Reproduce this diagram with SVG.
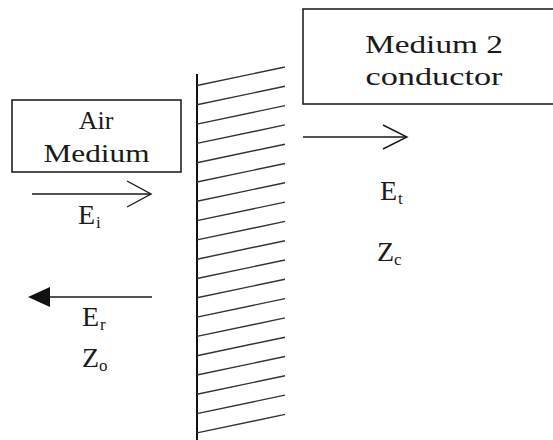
<svg xmlns="http://www.w3.org/2000/svg" width="553" height="440" viewBox="0 0 553 440">
<style>
.box{fill:#fff;stroke:#222;stroke-width:1.6}
.t{font-family:serif;fill:#1a1a1a}
.lbl{font-size:26px}
.sym{font-size:28px}
.sub{font-size:17px}
.ln{stroke:#1a1a1a;stroke-width:1.4;fill:none}
.hatch{stroke:#333;stroke-width:1.4}
</style>
<rect width="553" height="440" fill="#fff"/>
<g id="air-medium">
<rect class="box" x="12" y="100" width="169" height="72"/>
<text class="t lbl" x="96" y="129" text-anchor="middle">Air</text>
<text class="t lbl" x="96.5" y="162" text-anchor="middle" textLength="106" lengthAdjust="spacingAndGlyphs">Medium</text>
</g>
<g id="medium2-conductor">
<rect class="box" x="303" y="9" width="260" height="95"/>
<text class="t lbl" x="434" y="53" text-anchor="middle" textLength="138" lengthAdjust="spacingAndGlyphs">Medium 2</text>
<text class="t lbl" x="434" y="85" text-anchor="middle" textLength="137" lengthAdjust="spacingAndGlyphs">conductor</text>
</g>
<g id="wall">
<line x1="197" y1="74" x2="197" y2="440" stroke="#111" stroke-width="2"/>
<g class="hatch">
<line x1="197" y1="85.5" x2="285" y2="67"/>
<line x1="197" y1="104.8" x2="285" y2="86.3"/>
<line x1="197" y1="124.1" x2="285" y2="105.6"/>
<line x1="197" y1="143.4" x2="285" y2="124.9"/>
<line x1="197" y1="162.7" x2="285" y2="144.2"/>
<line x1="197" y1="182" x2="285" y2="163.5"/>
<line x1="197" y1="201.3" x2="285" y2="182.8"/>
<line x1="197" y1="220.6" x2="285" y2="202.1"/>
<line x1="197" y1="239.9" x2="285" y2="221.4"/>
<line x1="197" y1="259.2" x2="285" y2="240.7"/>
<line x1="197" y1="278.5" x2="285" y2="260"/>
<line x1="197" y1="297.8" x2="285" y2="279.3"/>
<line x1="197" y1="317.1" x2="285" y2="298.6"/>
<line x1="197" y1="336.4" x2="285" y2="317.9"/>
<line x1="197" y1="355.7" x2="285" y2="337.2"/>
<line x1="197" y1="375" x2="285" y2="356.5"/>
<line x1="197" y1="394.3" x2="285" y2="375.8"/>
<line x1="197" y1="413.6" x2="285" y2="395.1"/>
<line x1="197" y1="432.9" x2="285" y2="414.4"/>
</g>
</g>
<g id="connectors">
<g id="incident">
<line class="ln" x1="32" y1="194" x2="151" y2="194"/>
<polyline class="ln" points="127,181 151,194 127,207"/>
</g>
<g id="transmitted">
<line class="ln" x1="303" y1="137" x2="407" y2="137"/>
<polyline class="ln" points="383,125 407,137 383,149"/>
</g>
<g id="reflected">
<line class="ln" x1="45" y1="297" x2="152" y2="297"/>
<polygon points="28,297 50,287 50,307" fill="#111"/>
</g>
</g>
<g id="labels">
<text class="t sym" x="78" y="224">E</text><text class="t sub" x="96" y="228">i</text>
<text class="t sym" x="380" y="200">E</text><text class="t sub" x="398" y="204">t</text>
<text class="t sym" x="377" y="261">Z</text><text class="t sub" x="394" y="265">c</text>
<text class="t sym" x="82" y="326">E</text><text class="t sub" x="100" y="330">r</text>
<text class="t sym" x="82" y="367">Z</text><text class="t sub" x="99" y="371">o</text>
</g>
</svg>
